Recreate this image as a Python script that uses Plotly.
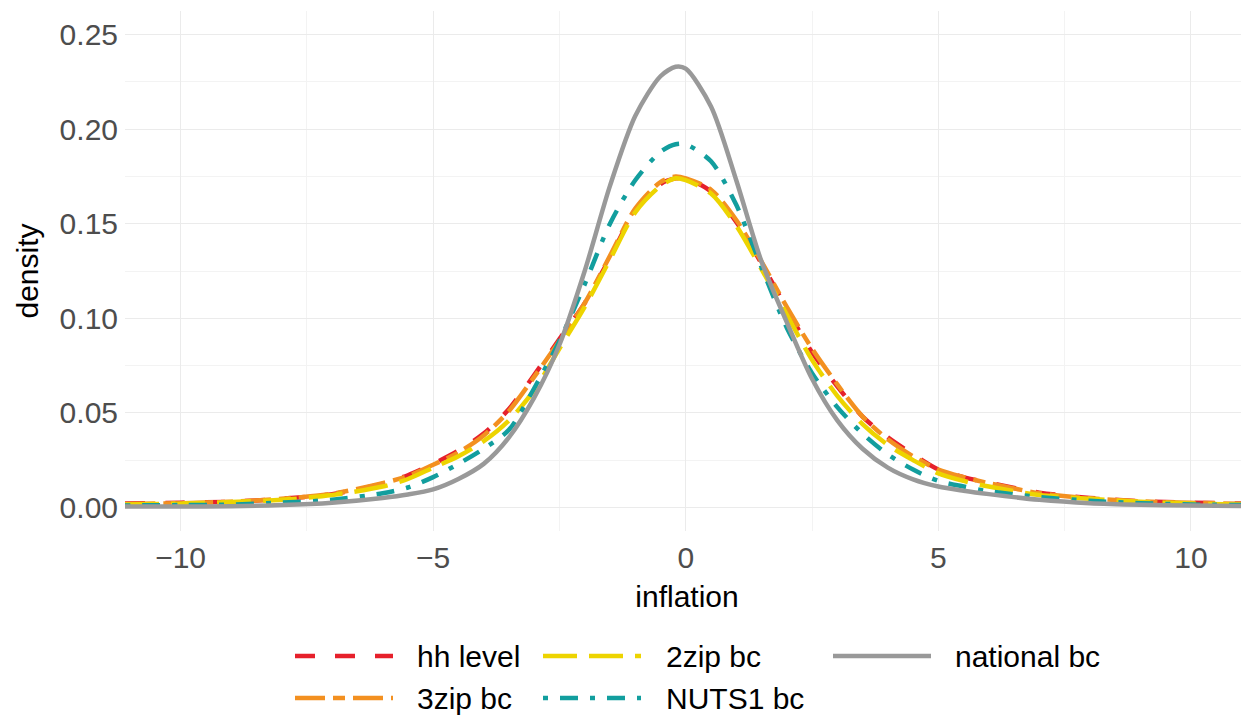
import plotly.graph_objects as go

# ---- data ----
inflation = [-11.1, -10, -9, -8, -7, -6, -5.5, -5, -4.5, -4, -3.5, -3, -2.5, -2, -1.5, -1,
             -0.5, -0.2, 0, 0.5, 1, 1.5, 2, 2.5, 3, 3.5, 4, 4.5, 5, 5.5, 6, 7, 8, 9, 10, 11.1]

hh_level = [0.002, 0.0025, 0.003, 0.0045, 0.007, 0.0125, 0.017, 0.023, 0.030, 0.039, 0.052, 0.070,
            0.089, 0.108, 0.132, 0.157, 0.171, 0.174, 0.174, 0.167, 0.151, 0.129, 0.105, 0.082,
            0.064, 0.048, 0.037, 0.028, 0.020, 0.016, 0.013, 0.0078, 0.005, 0.0032, 0.0025, 0.002]

zip3_bc = [0.0018, 0.0022, 0.003, 0.0045, 0.0072, 0.0128, 0.0165, 0.0225, 0.029, 0.038, 0.051, 0.069,
           0.088, 0.108, 0.133, 0.158, 0.172, 0.175, 0.174, 0.168, 0.152, 0.130, 0.106, 0.084,
           0.065, 0.048, 0.036, 0.027, 0.020, 0.016, 0.0128, 0.0075, 0.0048, 0.0032, 0.0024, 0.0018]

zip2_bc = [0.0015, 0.002, 0.0028, 0.004, 0.0065, 0.011, 0.015, 0.021, 0.027, 0.035, 0.046, 0.062,
           0.084, 0.106, 0.131, 0.156, 0.170, 0.174, 0.173, 0.166, 0.149, 0.126, 0.102, 0.078,
           0.059, 0.044, 0.033, 0.025, 0.018, 0.014, 0.011, 0.0065, 0.0045, 0.003, 0.002, 0.0015]

nuts1_bc = [0.001, 0.0012, 0.0015, 0.0025, 0.004, 0.0075, 0.0105, 0.016, 0.023, 0.031, 0.041, 0.063,
            0.088, 0.118, 0.150, 0.173, 0.188, 0.192, 0.192, 0.183, 0.160, 0.127, 0.095, 0.071,
            0.053, 0.039, 0.028, 0.020, 0.014, 0.011, 0.0085, 0.0055, 0.0035, 0.0022, 0.0015, 0.0012]

national_bc = [0.0005, 0.0005, 0.0006, 0.0012, 0.0025, 0.005, 0.0068, 0.0095, 0.015, 0.023, 0.037, 0.058,
               0.086, 0.125, 0.170, 0.207, 0.228, 0.233, 0.232, 0.212, 0.173, 0.130, 0.098, 0.068,
               0.046, 0.031, 0.021, 0.0148, 0.011, 0.0088, 0.007, 0.004, 0.0022, 0.0014, 0.001, 0.0007]

series_names = ["hh level", "3zip bc", "2zip bc", "NUTS1 bc", "national bc"]
series_values = [hh_level, zip3_bc, zip2_bc, nuts1_bc, national_bc]
series_colors = ["#E6202B", "#F39020", "#EDD400", "#129E9E", "#999999"]
series_dashes = ["20px,20px", "30px,8px,12px,8px", "34px,12px", "5px,12px,18px,12px", "solid"]

x_ticks = [-10, -5, 0, 5, 10]
y_ticks = [0.00, 0.05, 0.10, 0.15, 0.20, 0.25]
y_tick_labels = ["0.00", "0.05", "0.10", "0.15", "0.20", "0.25"]

# legend layout (column, row) in ggplot order: filled by column
legend_cells = {"hh level": (0, 0), "3zip bc": (0, 1), "2zip bc": (1, 0),
                "NUTS1 bc": (1, 1), "national bc": (2, 0)}

OFF = 8  # page body margin in the browser
W, H = 1249 - OFF, 717 - OFF
ML, MR, MT = 125 - OFF, 0, 11 - OFF
PLOT_BOTTOM = 531 - OFF
MB = H - PLOT_BOTTOM
PW, PH = W - ML - MR, H - MT - MB

fig = go.Figure()
for name, vals, col, dash in zip(series_names, series_values, series_colors, series_dashes):
    fig.add_trace(go.Scatter(
        x=inflation, y=vals, mode="lines", name=name, showlegend=False,
        line=dict(color=col, width=4.5, dash=dash, shape="spline", smoothing=0.8),
    ))

# manual legend (ggplot-style long keys)
col_key_px = [295 - OFF, 543 - OFF, 833 - OFF]
col_text_px = [415 - OFF, 664 - OFF, 953 - OFF]
row_px = [656 - OFF, 698 - OFF]
shapes = []
annotations = []
for name, col, dash in zip(series_names, series_colors, series_dashes):
    c, r = legend_cells[name]
    yp = (PLOT_BOTTOM - row_px[r]) / PH
    x0 = (col_key_px[c] - ML) / PW
    x1 = (col_key_px[c] + 98 - ML) / PW
    shapes.append(dict(type="line", xref="paper", yref="paper", x0=x0, x1=x1, y0=yp, y1=yp,
                       line=dict(color=col, width=4.5, dash=dash)))
    annotations.append(dict(xref="paper", yref="paper", x=(col_text_px[c] - ML) / PW, y=yp,
                            text=name, showarrow=False, xanchor="left", yanchor="middle",
                            font=dict(family="Liberation Sans, Arial, sans-serif", size=30, color="#000000")))

fig.update_layout(
    width=W, height=H,
    margin=dict(l=ML, r=MR, t=MT, b=MB),
    paper_bgcolor="white", plot_bgcolor="white",
    font=dict(family="Liberation Sans, Arial, sans-serif", size=29, color="#4D4D4D"),
    shapes=shapes, annotations=annotations,
    showlegend=False,
)
fig.update_xaxes(
    range=[-11.1, 11.15], tickvals=x_ticks, zeroline=False,
    showgrid=True, gridcolor="#EBEBEB", gridwidth=1.2,
    minor=dict(dtick=2.5, tick0=0, showgrid=True, gridcolor="#F3F3F3", gridwidth=0.8),
    ticks="", ticklabelstandoff=6,
    tickfont=dict(size=30, color="#4D4D4D"),
    title=dict(text="inflation", font=dict(size=30, color="#000000"), standoff=12),
)
fig.update_yaxes(
    range=[-0.0125, 0.2625], tickvals=y_ticks, ticktext=y_tick_labels, zeroline=False,
    showgrid=True, gridcolor="#EBEBEB", gridwidth=1.2,
    minor=dict(dtick=0.025, tick0=0, showgrid=True, gridcolor="#F3F3F3", gridwidth=0.8),
    ticks="", ticklabelstandoff=6,
    tickfont=dict(size=30, color="#4D4D4D"),
    title=dict(text="density", font=dict(size=30, color="#000000"), standoff=12),
)

fig.write_html("out.html")
